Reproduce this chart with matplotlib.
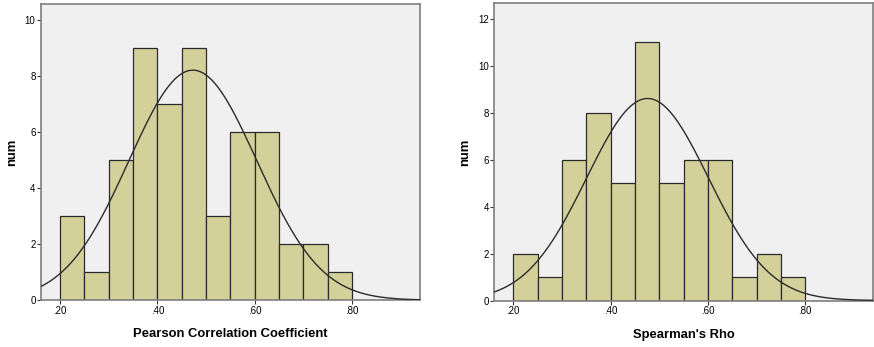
import numpy as np
import matplotlib
matplotlib.use("Agg")
from matplotlib import pyplot as plt

plt.rcParams['font.family'] = ['Liberation Sans', 'DejaVu Sans']

# bin edges shared by both histograms
bin_left = [0.20, 0.25, 0.30, 0.35, 0.40, 0.45, 0.50, 0.55, 0.60, 0.65, 0.70, 0.75]
bin_width = 0.05

# counts
pearson_counts = [3, 1, 5, 9, 7, 9, 3, 6, 6, 2, 2, 1]
spearman_counts = [2, 1, 6, 8, 5, 11, 5, 6, 6, 1, 2, 1]

# normal curve fitted by the stats package (mean, sd)
pearson_fit = (0.473, 0.1314)
spearman_fit = (0.476, 0.1253)

x_ticks = [0.20, 0.40, 0.60, 0.80]
x_ticklabels = ['.20', '.40', '.60', '.80']

bar_color = '#d4d09a'
bg_color = '#f0f0f0'
frame_color = '#7f7f7f'


def draw_panel(ax, counts, fit, xlabel, yticks, ylim):
    ax.set_facecolor(bg_color)
    ax.bar(bin_left, counts, width=bin_width, align='edge', color=bar_color,
           edgecolor='#2b2b2b', linewidth=0.9, zorder=2)
    mu, sd = fit
    n = sum(counts)
    xs = np.linspace(0.15, 0.95, 400)
    ys = n * bin_width / (sd * np.sqrt(2 * np.pi)) * np.exp(-0.5 * ((xs - mu) / sd) ** 2)
    ax.plot(xs, ys, color='#2b2b2b', linewidth=1.0, zorder=3)
    ax.set_xlim(0.161, 0.94)
    ax.set_ylim(*ylim)
    ax.set_xticks(x_ticks)
    ax.set_xticklabels(x_ticklabels)
    ax.set_yticks(yticks)
    ax.tick_params(axis='both', direction='out', length=3, width=0.8,
                   labelsize=7, pad=1, color='#333333')
    for s in ax.spines.values():
        s.set_color(frame_color)
        s.set_linewidth(1.2)
    ax.set_xlabel(xlabel, fontsize=9.4, fontweight='bold', labelpad=9)
    ax.set_ylabel('num', fontsize=9.4, fontweight='bold', labelpad=5)


fig = plt.figure(figsize=(8.74, 3.47), dpi=100)
ax1 = fig.add_axes([0.047, 0.135, 0.4336, 0.853])
ax2 = fig.add_axes([0.5656, 0.134, 0.4336, 0.856])

draw_panel(ax1, pearson_counts, pearson_fit, 'Pearson Correlation Coefficient',
           [0, 2, 4, 6, 8, 10], (0, 10.55))
draw_panel(ax2, spearman_counts, spearman_fit, "Spearman's Rho",
           [0, 2, 4, 6, 8, 10, 12], (0, 12.64))

fig.savefig('out.png', dpi=100)
